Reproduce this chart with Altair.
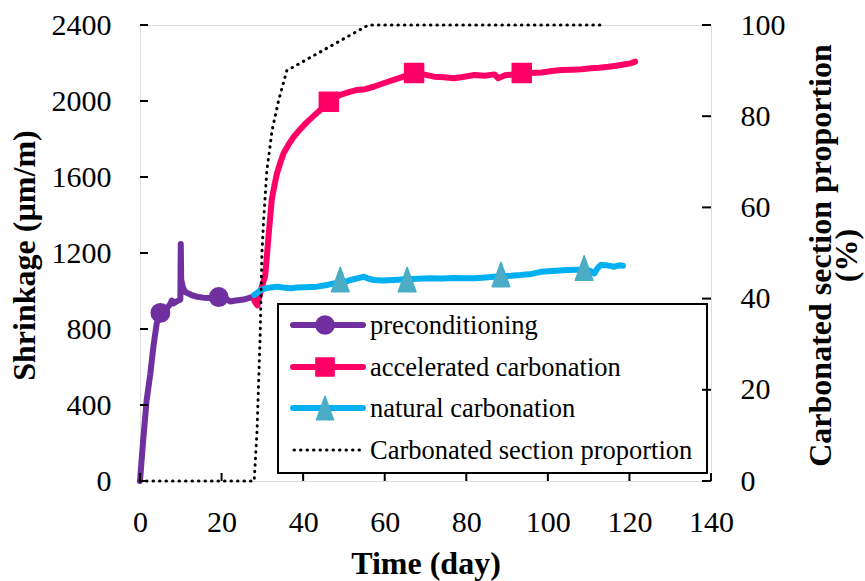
import altair as alt
import pandas as pd

FONT = "Liberation Serif"

# ---------------- data ----------------
pre_day = [0, 0.4, 0.8, 1.6, 2.5, 3.3, 4.1, 4.9, 5.8, 6.6, 7.4, 7.8, 8.2, 9.0, 9.9,
           10.0, 10.1, 10.5, 11.1, 12.5, 13.9, 15.5, 17.2, 19.2, 21.0, 22.1, 23.5,
           25.4, 27.0, 27.8, 28.5]
pre_val = [0, 110, 220, 420, 560, 710, 830, 885, 900, 910, 930, 950, 935, 945, 955,
           1248, 1060, 1020, 995, 980, 970, 965, 963, 968, 960, 945, 950,
           955, 965, 970, 985]
pre_mk_day = [5.0, 19.3]
pre_mk_val = [885, 968]

acc_day = [28.0, 28.4, 28.8, 29.3, 29.9, 30.4, 30.7, 31.1, 31.5, 32.3, 33.0, 33.6,
           34.4, 35.2, 36.4, 37.7, 39.3, 41.0, 42.6, 44.2, 46.3, 47.7, 49.1, 51.0,
           53.2, 55.2, 57.3, 59.0, 60.6, 63.5, 65.5, 67.2, 69.5, 72.1, 74.5, 77.0,
           79.5, 82.0, 84.5, 86.9, 87.8, 89.5, 91.5, 93.6, 96.0, 98.5, 101.0, 103.4,
           106.0, 108.3, 110.5, 112.5, 114.8, 116.8, 118.9, 120.3, 121.4]
acc_val = [950, 935, 925, 975, 1023, 1060, 1080, 1180, 1286, 1480, 1560, 1620,
           1675, 1725, 1770, 1812, 1852, 1890, 1922, 1953, 1996, 2015, 2032, 2045,
           2058, 2062, 2075, 2088, 2100, 2120, 2135, 2149, 2140, 2128, 2125, 2120,
           2128, 2137, 2133, 2140, 2120, 2135, 2140, 2145, 2147, 2150, 2158, 2163,
           2165, 2167, 2172, 2175, 2180, 2186, 2193, 2198, 2207]
acc_mk_day = [46.3, 67.2, 93.6]
acc_mk_val = [1996, 2147, 2147]

nat_day = [28.0, 28.8, 29.5, 31.0, 32.5, 33.6, 35.0, 36.9, 38.5, 40.5, 43.4, 45.5,
           47.5, 49.1, 50.5, 51.6, 53.5, 54.9, 56.0, 57.3, 59.5, 62.2, 64.0, 65.5,
           68.0, 71.2, 74.0, 77.0, 79.5, 81.8, 84.0, 86.8, 88.5, 91.0, 93.4, 96.0,
           98.3, 101.0, 104.8, 107.0, 108.9, 110.5, 111.4, 112.2, 113.0, 114.5,
           116.3, 117.5, 118.4]
nat_val = [980, 990, 1005, 1015, 1020, 1023, 1018, 1014, 1018, 1020, 1023, 1030,
           1040, 1045, 1050, 1058, 1068, 1075, 1065, 1058, 1055, 1058, 1060, 1062,
           1065, 1067, 1066, 1068, 1067, 1067, 1070, 1075, 1078, 1080, 1084, 1090,
           1101, 1105, 1110, 1112, 1112, 1105, 1093, 1120, 1137, 1135,
           1128, 1135, 1133]
nat_mk_day = [49.1, 65.5, 88.5, 108.9]
nat_mk_val = [1060, 1060, 1087, 1121]

cs_day = [0, 28.0, 28.7, 29.1, 29.5, 29.9, 30.3, 31.1, 32.4, 34.0, 36.0, 56.0, 113.0]
cs_val = [0, 0, 11, 22, 33, 50, 57, 68, 77, 83.5, 90, 100, 100]

x_ticks = [0, 20, 40, 60, 80, 100, 120, 140]
y_ticks = [0, 400, 800, 1200, 1600, 2000, 2400]
r_ticks = [0, 20, 40, 60, 80, 100]

legend_labels = ["preconditioning", "accelerated carbonation",
                 "natural carbonation", "Carbonated section proportion"]

# ---------------- styles ----------------
C_PRE = "#7030A0"
C_ACC = "#FF0066"
C_NAT = "#00B0F0"
C_TRI = "#4BACC6"
TRI = "M0,-1L0.72,1L-0.72,1Z"
LW = 6

W, H = 571, 456

xs = alt.Scale(domain=[0, 140], nice=False, zero=False)
ys = alt.Scale(domain=[0, 2400], nice=False)
rs = alt.Scale(domain=[0, 100], nice=False)

common = dict(grid=False, domain=False, ticks=False, tickSize=0, labelFont=FONT,
              labelFontSize=30, labelColor="black", labelFlush=False,
              labelOverlap=False, titleFont=FONT, titleFontSize=32,
              titleFontWeight="bold", titleColor="black")

xaxis = alt.Axis(values=x_ticks, title="Time (day)", format="d", labelPadding=50,
                 labelBaseline="alphabetic", labelAngle=0, titleY=92,
                 titleBaseline="alphabetic", **common)
yaxis = alt.Axis(values=y_ticks, title="Shrinkage (µm/m)", format="d",
                 labelPadding=29, labelBaseline="middle", titleAngle=270,
                 titleX=-106, titleY=230, titleAlign="center",
                 titleBaseline="alphabetic", **common)
raxis = alt.Axis(values=r_ticks, orient="right",
                 title=["Carbonated section proportion", "(%)"], format="d",
                 labelPadding=29, labelBaseline="middle", titleAngle=270,
                 titleX=119, titleY=230, titleAlign="center",
                 titleBaseline="alphabetic", titleLineHeight=26, **common)

X = alt.X("d:Q", scale=xs, axis=xaxis)
Y = alt.Y("v:Q", scale=ys, axis=yaxis)


def series_line(day, val, color):
    df = pd.DataFrame({"d": day, "v": val})
    return alt.Chart(df).mark_line(color=color, strokeWidth=LW, strokeCap="round",
                                   strokeJoin="round").encode(x=X, y=Y)


def series_pts(day, val, color, shape, size):
    df = pd.DataFrame({"d": day, "v": val})
    return alt.Chart(df).mark_point(filled=True, fill=color, stroke=color,
                                    strokeWidth=1.5, strokeJoin="round",
                                    shape=shape, size=size, opacity=1).encode(x=X, y=Y)


dummy = pd.DataFrame({"a": [0]})

left_layers = [
    series_line(pre_day, pre_val, C_PRE),
    series_line(acc_day, acc_val, C_ACC),
    series_line(nat_day, nat_val, C_NAT),
    series_pts(pre_mk_day, pre_mk_val, C_PRE, "circle", 340),
    series_pts(acc_mk_day, acc_mk_val, C_ACC, "square", 360),
    series_pts(nat_mk_day, nat_mk_val, C_TRI, TRI, 600),
    # inner ticks
    alt.Chart(pd.DataFrame({"v": y_ticks})).mark_rule(color="black", strokeWidth=2)
    .encode(y=Y, x=alt.value(0), x2=alt.value(8)),
    alt.Chart(pd.DataFrame({"d": x_ticks})).mark_rule(color="black", strokeWidth=2)
    .encode(x=X, y=alt.value(H), y2=alt.value(H - 8)),
    # legend box
    alt.Chart(dummy).mark_rect(fill="white", stroke="black", strokeWidth=2)
    .encode(x=alt.value(138), x2=alt.value(567), y=alt.value(279), y2=alt.value(448)),
]

row_y = [300, 342, 383, 425]
leg_colors = [C_PRE, C_ACC, C_NAT, "black"]
leg_mk = [(C_PRE, "circle", 330), (C_ACC, "square", 330), (C_TRI, TRI, 560), None]
for i, lab in enumerate(legend_labels):
    if i < 3:
        left_layers.append(
            alt.Chart(dummy).mark_rule(color=leg_colors[i], strokeWidth=LW,
                                       strokeCap="round")
            .encode(x=alt.value(153), x2=alt.value(223), y=alt.value(row_y[i])))
        c, s, z = leg_mk[i]
        left_layers.append(
            alt.Chart(dummy).mark_point(filled=True, fill=c, stroke=c, strokeWidth=1.5,
                                        strokeJoin="round", shape=s, size=z, opacity=1)
            .encode(x=alt.value(185), y=alt.value(row_y[i])))
    else:
        left_layers.append(
            alt.Chart(dummy).mark_rule(color="black", strokeWidth=3, strokeCap="round",
                                       strokeDash=[0.5, 6])
            .encode(x=alt.value(154), x2=alt.value(222), y=alt.value(row_y[i])))
    left_layers.append(
        alt.Chart(dummy).mark_text(text=lab, font=FONT, fontSize=26.5, color="black",
                                   align="left", baseline="alphabetic")
        .encode(x=alt.value(230), y=alt.value(row_y[i] + 9)))

left = alt.layer(*left_layers)

R = alt.Y("r:Q", scale=rs, axis=raxis)
right = alt.layer(
    alt.Chart(pd.DataFrame({"d": cs_day, "r": cs_val}))
    .mark_line(color="black", strokeWidth=3, strokeCap="round", strokeDash=[0.5, 6])
    .encode(x=X, y=R),
    alt.Chart(pd.DataFrame({"r": r_ticks})).mark_rule(color="black", strokeWidth=2)
    .encode(y=R, x=alt.value(W), x2=alt.value(W - 9)),
)

chart = (
    alt.layer(left, right)
    .resolve_scale(y="independent")
    .properties(width=W, height=H,
                padding={"left": 140, "top": 25, "right": 865 - 140 - W,
                         "bottom": 581 - 25 - H},
                autosize=alt.AutoSizeParams(type="none"),
                background="white")
    .configure_view(stroke="black", strokeWidth=2.5)
    .configure(font=FONT)
)

chart.save("out.html", embed_options={"renderer": "svg", "actions": False})
